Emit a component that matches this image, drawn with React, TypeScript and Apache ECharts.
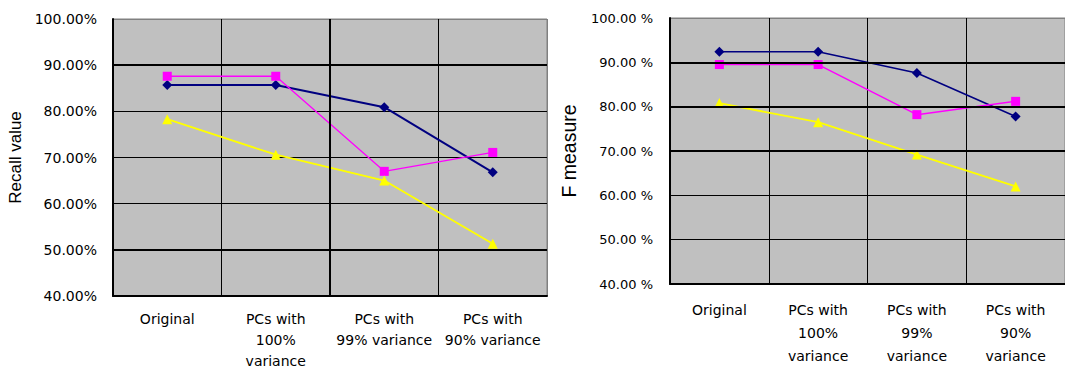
import React, { useEffect, useRef } from "react";
import * as echarts from "echarts";

const categoriesLeft = ["Original", "PCs with\n100%\nvariance", "PCs with\n99% variance", "PCs with\n90% variance"];
const categoriesRight = ["Original", "PCs with\n100%\nvariance", "PCs with\n99%\nvariance", "PCs with\n90%\nvariance"];

const recallNavy = [85.7, 85.7, 80.9, 66.8];
const recallMagenta = [87.6, 87.6, 67.0, 71.1];
const recallYellow = [78.3, 70.6, 65.0, 51.3];

const fNavy = [92.4, 92.4, 87.6, 77.8];
const fMagenta = [89.5, 89.5, 78.2, 81.2];
const fYellow = [80.8, 76.5, 69.2, 62.0];

const leftThick = [90, 50];
const rightThick = [90, 80, 70];
const leftThickBoundary = [2];

const NAVY = "#000080";
const MAGENTA = "#FF00FF";
const YELLOW = "#FFFF00";
const TICK_FONT = "DejaVu Sans";

export default function App() {
  const ref = useRef<HTMLDivElement>(null);
  useEffect(() => {
    document.body.style.margin = "0";
    const chart = echarts.init(ref.current!, null, { renderer: "svg" });
    const yAxisBase = (gridIndex: number, name: string, fmt: (v: number) => string, nameGap: number, nameSize: number, fontSize: number, margin: number) => ({
      type: "value",
      gridIndex,
      min: 40,
      max: 100,
      interval: 10,
      name,
      nameLocation: "middle",
      nameRotate: 90,
      nameGap,
      nameTextStyle: { fontFamily: "Liberation Sans", fontSize: nameSize, color: "#000" },
      axisLine: { show: true, lineStyle: { color: "#000", width: 2 } },
      axisTick: { show: false },
      axisLabel: { formatter: fmt, fontFamily: TICK_FONT, fontSize, color: "#000", margin },
      splitLine: {
        show: true,
        lineStyle: { color: ["#000", "#000", "#000", "#000", "#000", "#000", "#808080"], width: 1 },
      },
    });
    const xCat = (gridIndex: number, data: string[], lineHeight: number, margin: number) => ({
      type: "category",
      gridIndex,
      data,
      boundaryGap: true,
      axisLine: { show: true, lineStyle: { color: "#000", width: 2 } },
      axisTick: { show: false },
      axisLabel: { interval: 0, fontFamily: TICK_FONT, fontSize: 14, color: "#000", lineHeight, margin },
      splitLine: { show: true, lineStyle: { color: ["#000", "#000", "#000", "#000", "#808080"], width: 1 } },
    });
    const markStyle = { silent: true, symbol: ["none", "none"], label: { show: false }, emphasis: { disabled: true }, lineStyle: { color: "#000", width: 2, type: "solid" } };
    const lineSeries = (name: string, data: number[], color: string, symbol: string, size: number, width: number, xi: number, yi: number) => ({
      name,
      type: "line",
      xAxisIndex: xi,
      yAxisIndex: yi,
      data,
      symbol,
      symbolSize: size,
      itemStyle: { color },
      lineStyle: { color, width },
    });
    chart.setOption({
      animation: false,
      grid: [
        { left: 113, top: 19, width: 434, height: 280.5, show: true, backgroundColor: "#C0C0C0", borderColor: "#808080", borderWidth: 1 },
        { left: 670, top: 18, width: 404, height: 266, show: true, backgroundColor: "#C0C0C0", borderColor: "#808080", borderWidth: 1 },
      ],
      xAxis: [
        xCat(0, categoriesLeft, 21, 12),
        xCat(1, categoriesRight, 23, 14.5),
        { type: "value", gridIndex: 0, min: 0, max: 4, show: false, splitLine: { show: false } },
      ],
      yAxis: [
        yAxisBase(0, "Recall value", (v: number) => v.toFixed(2) + "%", 89, 17, 14, 16),
        yAxisBase(1, "F measure", (v: number) => v.toFixed(2) + " %", 91, 19.5, 13, 17),
      ],
      series: [
        {
          type: "line",
          xAxisIndex: 2,
          yAxisIndex: 0,
          data: [],
          markLine: { ...markStyle, data: [...leftThick.map((v) => ({ yAxis: v })), ...leftThickBoundary.map((v) => ({ xAxis: v }))] },
        },
        {
          type: "line",
          xAxisIndex: 1,
          yAxisIndex: 1,
          data: [],
          markLine: { ...markStyle, data: rightThick.map((v) => ({ yAxis: v })) },
        },
        lineSeries("Recall navy", recallNavy, NAVY, "diamond", 10, 2, 0, 0),
        lineSeries("Recall magenta", recallMagenta, MAGENTA, "rect", 9, 1.3, 0, 0),
        lineSeries("Recall yellow", recallYellow, YELLOW, "triangle", 10, 1.8, 0, 0),
        lineSeries("F navy", fNavy, NAVY, "diamond", 10, 1.6, 1, 1),
        lineSeries("F magenta", fMagenta, MAGENTA, "rect", 9, 1.5, 1, 1),
        lineSeries("F yellow", fYellow, YELLOW, "triangle", 10, 1.8, 1, 1),
      ],
    });
    return () => chart.dispose();
  }, []);
  return <div ref={ref} style={{ position: "absolute", left: 0, top: 0, width: 1065, height: 371, background: "#fff" }} />;
}
